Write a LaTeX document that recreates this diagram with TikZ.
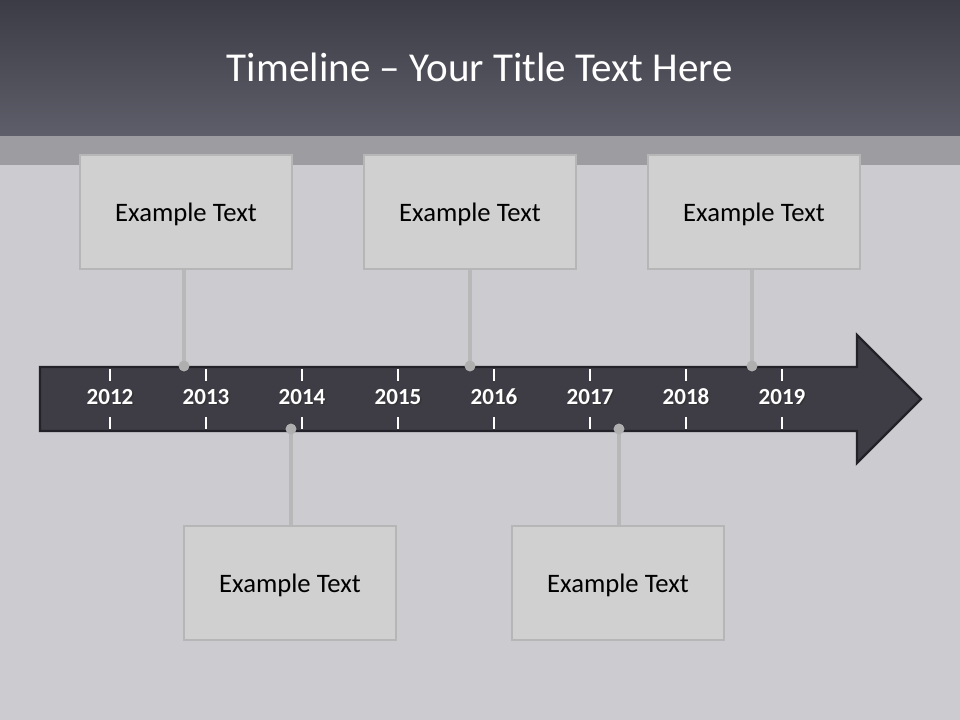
\documentclass[tikz,border=0pt]{standalone}
\usepackage{fontspec}
\setmainfont{Carlito}
\begin{document}
\begin{tikzpicture}[x=0.75pt,y=-0.75pt]
\definecolor{bg}{HTML}{CCCCD0}
\definecolor{band}{HTML}{9C9CA1}
\definecolor{titletop}{HTML}{3C3C46}
\definecolor{titlebot}{HTML}{5E5E6A}
\definecolor{boxfill}{HTML}{D0D0D0}
\definecolor{boxline}{HTML}{B6B6B6}
\definecolor{arrowfill}{HTML}{3E3D46}
\definecolor{arrowline}{HTML}{222228}
\definecolor{conn}{HTML}{B8B8B8}
\tikzset{
  textbox/.style={draw=boxline,line width=2.2pt,fill=boxfill,minimum width=159pt,minimum height=85.5pt,inner sep=0pt,text depth=0pt,font=\fontsize{20}{24}\selectfont,text=black},
  connline/.style={draw=conn,line width=3pt},
  dot/.style={circle,fill=conn!95!black,minimum size=8pt,inner sep=0pt},
  yearlbl/.style={anchor=base,inner sep=0pt,font=\bfseries\fontsize{17.3}{20}\selectfont,text=white},
  yearshadow/.style={anchor=base,inner sep=0pt,font=\bfseries\fontsize{17.3}{20}\selectfont,text=black!80},
  tick/.style={draw=white,line width=0.8pt}
}
\useasboundingbox (0,0) rectangle (960,720);
\fill[bg] (0,0) rectangle (960,720);
\fill[band] (0,136) rectangle (960,165);
\shade[top color=titletop,bottom color=titlebot] (0,0) rectangle (960,136);
\node[text=white,font=\fontsize{30.8}{36}\selectfont] (title) at (480,67) {Timeline – Your Title Text Here};
% arrow
\draw[fill=arrowfill,draw=arrowline,line width=1.8pt,line join=miter]
  (40,367) -- (857,367) -- (857,335) -- (921,399) -- (857,463) -- (857,431) -- (40,431) -- cycle;
% ticks and years
\foreach \yr [count=\i from 0] in {2012,2013,2014,2015,2016,2017,2018,2019}{
  \pgfmathsetmacro{\xx}{110+96*\i}
  \draw[tick] (\xx,369) -- (\xx,381);
  \draw[tick] (\xx,417) -- (\xx,429);
  \node[yearshadow] at (\xx+1.3,405.6) {\yr};
  \node[yearlbl] (y\yr) at (\xx,404.3) {\yr};
}
% top boxes
\node[textbox] (b1) at (186,212) {Example Text};
\node[textbox] (b2) at (470,212) {Example Text};
\node[textbox] (b3) at (754,212) {Example Text};
% bottom boxes
\node[textbox] (b4) at (290,583) {Example Text};
\node[textbox] (b5) at (618,583) {Example Text};
% dots
\node[dot] (d1) at (184,366) {};
\node[dot] (d2) at (470,366) {};
\node[dot] (d3) at (752,366) {};
\node[dot] (d4) at (291,429) {};
\node[dot] (d5) at (619,429) {};
% connectors
\draw[connline] (b1.south -| d1) -- (d1.center);
\draw[connline] (b2.south -| d2) -- (d2.center);
\draw[connline] (b3.south -| d3) -- (d3.center);
\draw[connline] (b4.north -| d4) -- (d4.center);
\draw[connline] (b5.north -| d5) -- (d5.center);
\node[dot] at (d1) {};
\node[dot] at (d2) {};
\node[dot] at (d3) {};
\node[dot] at (d4) {};
\node[dot] at (d5) {};
\end{tikzpicture}
\end{document}
